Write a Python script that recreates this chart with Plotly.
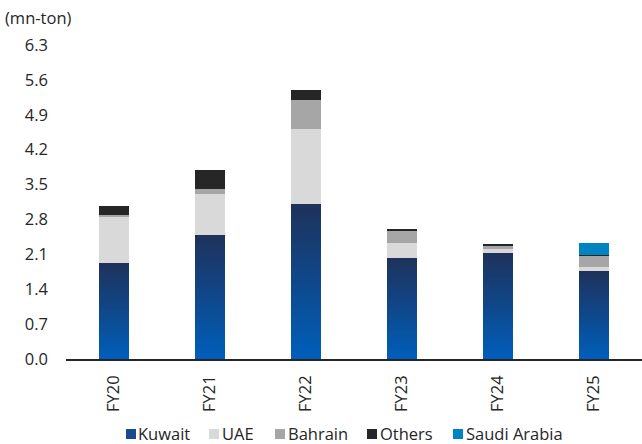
import numpy as np
import plotly.graph_objects as go

years = ["FY20", "FY21", "FY22", "FY23", "FY24", "FY25"]
kuwait = [1.93, 2.49, 3.11, 2.03, 2.13, 1.77]
uae = [0.93, 0.82, 1.51, 0.30, 0.08, 0.08]
bahrain = [0.02, 0.10, 0.58, 0.25, 0.06, 0.22]
others = [0.19, 0.39, 0.20, 0.01, 0.04, 0.02]
saudi = [0.0, 0.0, 0.0, 0.0, 0.0, 0.24]
y_ticks = [0.0, 0.7, 1.4, 2.1, 2.8, 3.5, 4.2, 4.9, 5.6, 6.3]

FONT = "Open Sans"
TXT = "#262626"
FS = 16.5
BAR_W = 0.31

W, H = 642, 444
ML, MR, MT, MB = 66, 0, 45, 85
PW, PH = W - ML - MR, H - MT - MB


def px_x(p):
    return (p - ML) / PW


def px_y(p):
    return (H - MB - p) / PH


# Kuwait bars carry a vertical gradient (blue at the base, navy at the top),
# built from equal stacked slices of each bar's own value.
N_SLICES = 40
bottom_rgb = np.array([0, 94, 186])
top_rgb = np.array([30, 50, 92])

fig = go.Figure()
k = np.array(kuwait)
for i in range(N_SLICES):
    t = i / (N_SLICES - 1)
    r, g, b = (bottom_rgb + (top_rgb - bottom_rgb) * t).round().astype(int)
    fig.add_trace(go.Bar(
        x=years, y=k / N_SLICES, name="Kuwait", showlegend=False,
        width=BAR_W, marker=dict(color=f"rgb({r},{g},{b})", line=dict(width=0)),
        hoverinfo="skip",
    ))

series = [
    ("UAE", uae, "#D9D9D9"),
    ("Bahrain", bahrain, "#A6A6A6"),
    ("Others", others, "#262626"),
    ("Saudi Arabia", saudi, "#0083C3"),
]
for name, vals, col in series:
    fig.add_trace(go.Bar(
        x=years, y=vals, name=name, width=BAR_W, showlegend=False,
        marker=dict(color=col, line=dict(width=0)),
    ))

# Legend row: small square swatches followed by their labels
legend_items = [
    ("Kuwait", "#1A4A92", 126, 10),
    ("UAE", "#D9D9D9", 209, 11),
    ("Bahrain", "#A6A6A6", 275, 11),
    ("Others", "#262626", 367, 11),
    ("Saudi Arabia", "#0083C3", 453, 11),
]
shapes, annotations = [], []
for label, col, left, gap in legend_items:
    shapes.append(dict(
        type="rect", xref="paper", yref="paper",
        x0=px_x(left), x1=px_x(left + 10), y0=px_y(439), y1=px_y(429),
        fillcolor=col, line=dict(width=0),
    ))
    annotations.append(dict(
        text=label, xref="paper", yref="paper", x=px_x(left + gap), y=px_y(433.5),
        xanchor="left", yanchor="middle", showarrow=False,
        font=dict(size=FS, color=TXT),
    ))

annotations.append(dict(
    text="(mn-ton)", xref="paper", yref="paper", x=px_x(3), y=px_y(17),
    xanchor="left", yanchor="middle", showarrow=False,
    font=dict(size=FS, color=TXT),
))

fig.update_layout(
    width=W, height=H,
    barmode="stack",
    margin=dict(l=ML, r=MR, t=MT, b=MB),
    paper_bgcolor="white", plot_bgcolor="white",
    font=dict(family=FONT, size=FS, color=TXT),
    showlegend=False,
    xaxis=dict(
        tickangle=-90, showline=True, linecolor="#262626", linewidth=1.5,
        ticks="", showgrid=False, ticklabelstandoff=8, automargin=False,
        tickfont=dict(size=FS, color=TXT),
    ),
    yaxis=dict(
        range=[0, 6.3], tickvals=y_ticks,
        ticktext=[f"{v:.1f}" for v in y_ticks],
        showgrid=False, showline=False, zeroline=False, ticks="",
        ticklabelstandoff=17, automargin=False,
        tickfont=dict(size=FS, color=TXT),
    ),
    shapes=shapes,
    annotations=annotations,
)

fig.write_html("out.html")
